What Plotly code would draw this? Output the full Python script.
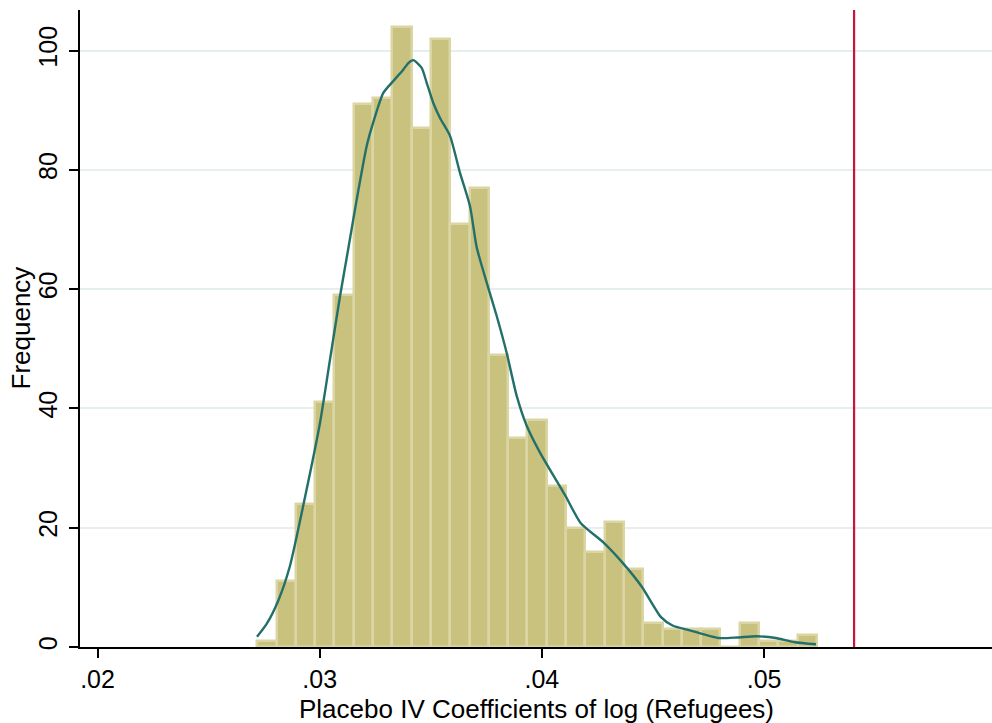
import plotly.graph_objects as go

# ---- data ----
bin_start = 0.027187
bin_width = 0.00086876
counts = [1, 11, 24, 41, 59, 91, 92, 104, 87, 102,
          71, 77, 49, 35, 38, 27, 20, 16, 21, 13,
          4, 3, 3, 3, 0, 4, 1, 1, 2]

density_x = [0.027178, 0.027619, 0.028137, 0.028654, 0.029338, 0.030014, 0.030464,
             0.030914, 0.031287, 0.031665, 0.032115, 0.032412, 0.032862, 0.033312,
             0.033762, 0.033987, 0.034212, 0.034590, 0.034815, 0.035113, 0.035414,
             0.035864, 0.036314, 0.036764, 0.037066, 0.037516, 0.037966, 0.038416,
             0.038866, 0.039316, 0.039915, 0.041053, 0.041742, 0.042777, 0.043636,
             0.044496, 0.045360, 0.045878, 0.046737, 0.047944, 0.048803, 0.049663,
             0.050527, 0.051386, 0.052336]
density_y = [1.7, 3.9, 7.8, 13.5, 25.1, 37.6, 48.2,
             58.8, 66.8, 75.0, 84.0, 88.0, 92.9, 94.9,
             96.8, 97.9, 98.4, 97.1, 94.6, 91.2, 88.7,
             85.7, 79.5, 73.9, 67.0, 61.1, 55.5, 49.3,
             42.1, 37.1, 32.6, 25.4, 20.8, 17.5, 14.1,
             10.1, 5.0, 3.6, 2.7, 1.5, 1.6, 1.8,
             1.5, 0.8, 0.45]

actual_coef = 0.05405

x_tickvals = [0.02, 0.03, 0.04, 0.05]
x_ticktext = [".02", ".03", ".04", ".05"]
y_tickvals = [0, 20, 40, 60, 80, 100]

x_title = "Placebo IV Coefficients of log (Refugees)"
y_title = "Frequency"

# ---- figure ----
centers = [bin_start + (i + 0.5) * bin_width for i in range(len(counts))]

FONT = "Liberation Sans, Arial, sans-serif"

fig = go.Figure()
fig.add_trace(go.Bar(
    x=centers, y=counts, width=bin_width,
    marker=dict(color="#C9C27E", line=dict(color="#DAD5A3", width=2.5)),
    showlegend=False, hoverinfo="skip",
))
fig.add_trace(go.Scatter(
    x=density_x, y=density_y, mode="lines",
    line=dict(color="#23706A", width=2.4, shape="spline", smoothing=0.6),
    showlegend=False, hoverinfo="skip",
))
fig.add_vline(x=actual_coef, line=dict(color="#C8153D", width=2.2))

fig.update_layout(
    width=992, height=723,
    margin=dict(l=80, r=0, t=10, b=76),
    paper_bgcolor="white", plot_bgcolor="white",
    bargap=0,
    font=dict(family=FONT, color="black", size=25),
    xaxis=dict(
        range=[0.019212, 0.060257],
        tickvals=x_tickvals, ticktext=x_ticktext,
        ticks="outside", ticklen=9, tickwidth=1.6, tickcolor="black",
        showline=True, linecolor="black", linewidth=1.8,
        showgrid=False, zeroline=False,
        tickfont=dict(size=25),
    ),
    yaxis=dict(
        range=[0, 106.8],
        tickvals=y_tickvals,
        ticks="outside", ticklen=9, tickwidth=1.6, tickcolor="black",
        tickangle=-90, ticklabelstandoff=2,
        showline=True, linecolor="black", linewidth=1.8,
        showgrid=True, gridcolor="#E6EEF0", gridwidth=2.2,
        zeroline=False,
        tickfont=dict(size=25),
    ),
    annotations=[
        dict(text=x_title, xref="paper", yref="paper", x=0.5, y=0,
             yshift=-45, xanchor="center", yanchor="top",
             showarrow=False, font=dict(size=26)),
        dict(text=y_title, xref="paper", yref="paper", x=0, y=0.5,
             xshift=-60, xanchor="center", yanchor="middle", textangle=-90,
             showarrow=False, font=dict(size=26)),
    ],
)

fig.write_html("out.html",
               config={"displayModeBar": False},
               post_script="document.body.style.margin='0';document.body.style.overflow='hidden';")
